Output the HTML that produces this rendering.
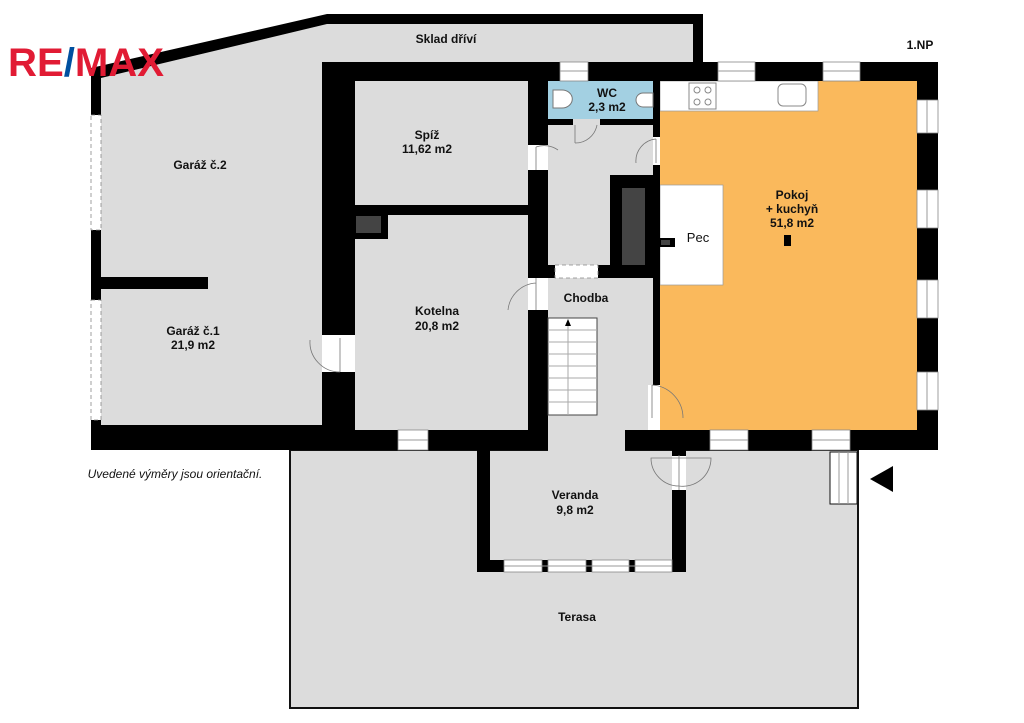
<!DOCTYPE html>
<html><head><meta charset="utf-8"><style>
html,body{margin:0;padding:0;background:#fff;width:1024px;height:723px;overflow:hidden}
svg{display:block}
text{font-family:"Liberation Sans",Arial,sans-serif;font-size:12px;fill:#111;text-anchor:middle;font-weight:bold}
</style></head><body>
<svg width="1024" height="723" viewBox="0 0 1024 723" xmlns="http://www.w3.org/2000/svg">
<rect x="290" y="450" width="568" height="258" fill="#dcdcdc" stroke="#111" stroke-width="2"/>
<polygon points="101,78 327,24 693,24 693,440 101,440" fill="#dcdcdc"/>
<rect x="548" y="425" width="77" height="27" fill="#dcdcdc"/>
<rect x="548" y="81" width="105" height="38" fill="#a3d0e2"/>
<rect x="660" y="81" width="257" height="349" fill="#fab95c"/>
<rect x="660" y="81" width="158" height="30" fill="#fff" stroke="#999" stroke-width="0.7"/>
<rect x="689" y="83" width="27" height="26" fill="#fff" stroke="#888"/>
<circle cx="697" cy="90" r="3" fill="none" stroke="#888"/><circle cx="708" cy="90" r="3" fill="none" stroke="#888"/>
<circle cx="697" cy="102" r="3" fill="none" stroke="#888"/><circle cx="708" cy="102" r="3" fill="none" stroke="#888"/>
<rect x="778" y="84" width="28" height="22" rx="5" fill="#fff" stroke="#888"/>
<rect x="660" y="185" width="63" height="100" fill="#fff" stroke="#999" stroke-width="0.7"/>
<rect x="703" y="0" width="240" height="62" fill="#fff"/>
<g fill="#000">
<polygon points="91,68 327,14 703,14 703,24 327,24 101,78 101,80 91,80"/>
<rect x="693" y="14" width="10" height="48"/>
<rect x="91" y="70" width="10" height="380"/>
<rect x="91" y="425" width="240" height="15"/>
<rect x="91" y="440" width="250" height="10"/>
<rect x="101" y="277" width="107" height="12"/>
<rect x="322" y="62" width="33" height="273"/>
<rect x="322" y="372" width="33" height="78"/>
<rect x="322" y="62" width="238" height="19"/>
<rect x="588" y="62" width="130" height="19"/>
<rect x="755" y="62" width="68" height="19"/>
<rect x="860" y="62" width="78" height="19"/>
<rect x="917" y="62" width="21" height="38"/>
<rect x="917" y="133" width="21" height="57"/>
<rect x="917" y="228" width="21" height="52"/>
<rect x="917" y="318" width="21" height="54"/>
<rect x="917" y="410" width="21" height="40"/>
<rect x="355" y="205" width="193" height="10"/>
<rect x="355" y="215" width="33" height="24"/>
<rect x="528" y="81" width="20" height="64"/>
<rect x="528" y="170" width="20" height="108"/>
<rect x="528" y="310" width="20" height="140"/>
<rect x="548" y="119" width="25" height="6"/>
<rect x="600" y="119" width="60" height="6"/>
<rect x="653" y="81" width="7" height="56"/>
<rect x="653" y="165" width="7" height="220"/>
<rect x="548" y="265" width="7" height="13"/>
<rect x="598" y="265" width="55" height="13"/>
<rect x="610" y="175" width="50" height="100"/>
<rect x="322" y="430" width="76" height="20"/>
<rect x="428" y="430" width="120" height="20"/>
<rect x="625" y="430" width="85" height="20"/>
<rect x="748" y="430" width="64" height="20"/>
<rect x="850" y="430" width="88" height="20"/>
<rect x="477" y="450" width="13" height="122"/>
<rect x="477" y="560" width="27" height="12"/>
<rect x="542" y="560" width="6" height="12"/>
<rect x="586" y="560" width="6" height="12"/>
<rect x="629" y="560" width="6" height="12"/>
<rect x="672" y="490" width="14" height="82"/>
<rect x="672" y="450" width="14" height="6"/>
<rect x="784" y="235" width="7" height="11"/>
<polygon points="870,479 893,466 893,492"/>
</g>
<rect x="356" y="216" width="25" height="17" fill="#444"/>
<rect x="622" y="188" width="23" height="77" fill="#444"/>
<rect x="660" y="238" width="15" height="9" fill="#000"/><rect x="661" y="240" width="9" height="5" fill="#444"/>
<g fill="#fff" stroke="#888" stroke-width="0.8">
<rect x="91" y="115" width="10" height="115" stroke-dasharray="4,3"/>
<rect x="91" y="300" width="10" height="120" stroke-dasharray="4,3"/>
<rect x="560" y="62" width="28" height="19"/>
<rect x="718" y="62" width="37" height="19"/>
<rect x="823" y="62" width="37" height="19"/>
<rect x="917" y="100" width="21" height="33"/>
<rect x="917" y="190" width="21" height="38"/>
<rect x="917" y="280" width="21" height="38"/>
<rect x="917" y="372" width="21" height="38"/>
<rect x="398" y="430" width="30" height="20"/>
<rect x="710" y="430" width="38" height="20"/>
<rect x="812" y="430" width="38" height="20"/>
<rect x="504" y="560" width="38" height="12"/>
<rect x="548" y="560" width="38" height="12"/>
<rect x="592" y="560" width="37" height="12"/>
<rect x="635" y="560" width="37" height="12"/>
<rect x="555" y="265" width="43" height="13" stroke-dasharray="4,3"/>
</g>
<g stroke="#999" stroke-width="1">
<line x1="560" y1="71" x2="588" y2="71"/><line x1="718" y1="71" x2="755" y2="71"/><line x1="823" y1="71" x2="860" y2="71"/>
<line x1="927" y1="100" x2="927" y2="133"/><line x1="927" y1="190" x2="927" y2="228"/><line x1="927" y1="280" x2="927" y2="318"/><line x1="927" y1="372" x2="927" y2="410"/>
<line x1="398" y1="440" x2="428" y2="440"/><line x1="710" y1="440" x2="748" y2="440"/><line x1="812" y1="440" x2="850" y2="440"/>
<line x1="504" y1="566" x2="672" y2="566"/>
</g>
<g fill="none" stroke="#777" stroke-width="0.8">
<rect x="322" y="335" width="33" height="37" fill="#fff" stroke="none"/>
<path d="M340,338 L340,372 M310,340 A30,30 0 0 0 340,372"/>
<rect x="528" y="278" width="20" height="32" fill="#fff" stroke="none"/>
<path d="M536,278 L536,310 M508,310 A30,30 0 0 1 536,283"/>
<rect x="528" y="145" width="20" height="25" fill="#fff" stroke="none"/>
<path d="M536,147 L536,170 M536,147 A24,24 0 0 1 558,150"/>
<rect x="653" y="137" width="7" height="28" fill="#fff" stroke="none"/>
<path d="M656,139 L656,163 M636,163 A22,22 0 0 1 656,139"/>
<path d="M575,125 L575,143 M575,143 A22,22 0 0 0 597,125"/>
<rect x="648" y="385" width="12" height="45" fill="#fff" stroke="none"/>
<path d="M652,385 L652,418 M652,385 A33,33 0 0 1 683,418"/>
<rect x="672" y="456" width="14" height="34" fill="#fff" stroke="none"/>
<path d="M679,455 L679,490 M651,458 A28,28 0 0 0 679,486 A28,28 0 0 0 711,458 Z"/>
</g>
<rect x="548" y="318" width="49" height="97" fill="#fff" stroke="#444"/>
<g stroke="#aaa">
<line x1="548" y1="330" x2="597" y2="330"/><line x1="548" y1="342" x2="597" y2="342"/><line x1="548" y1="354" x2="597" y2="354"/><line x1="548" y1="366" x2="597" y2="366"/><line x1="548" y1="378" x2="597" y2="378"/><line x1="548" y1="390" x2="597" y2="390"/><line x1="548" y1="402" x2="597" y2="402"/>
<line x1="568" y1="322" x2="568" y2="415"/>
</g>
<polygon points="568,319 565,326 571,326" fill="#000"/>
<rect x="830" y="452" width="27" height="52" fill="#fff" stroke="#111"/>
<line x1="839" y1="452" x2="839" y2="504" stroke="#999"/><line x1="848" y1="452" x2="848" y2="504" stroke="#999"/>
<path d="M553,90 L562,90 A8,7 0 0 1 562,108 L553,108 Z" fill="#fff" stroke="#777"/>
<path d="M653,93 L643,93 A5,5 0 0 0 643,107 L653,107 Z" fill="#fff" stroke="#777"/>
<text x="8" y="76" textLength="156" lengthAdjust="spacingAndGlyphs" style="font-size:40px;fill:#e11b34;text-anchor:start">RE<tspan style="fill:#0050a0">/</tspan>MAX</text>
<text x="446" y="43">Sklad dříví</text>
<text x="920" y="49">1.NP</text>
<text x="200" y="169">Garáž č.2</text>
<text x="427" y="139">Spíž</text>
<text x="427" y="153">11,62 m2</text>
<text x="607" y="97">WC</text>
<text x="607" y="111">2,3 m2</text>
<text x="792" y="199">Pokoj</text>
<text x="792" y="213">+ kuchyň</text>
<text x="792" y="227">51,8 m2</text>
<text x="698" y="242" style="font-size:13px;font-weight:normal">Pec</text>
<text x="586" y="302">Chodba</text>
<text x="437" y="315">Kotelna</text>
<text x="437" y="330">20,8 m2</text>
<text x="193" y="335">Garáž č.1</text>
<text x="193" y="349">21,9 m2</text>
<text x="575" y="499">Veranda</text>
<text x="575" y="514">9,8 m2</text>
<text x="577" y="621">Terasa</text>
<text x="175" y="478" style="font-style:italic;font-weight:normal">Uvedené výměry jsou orientační.</text>
</svg>
</body></html>
